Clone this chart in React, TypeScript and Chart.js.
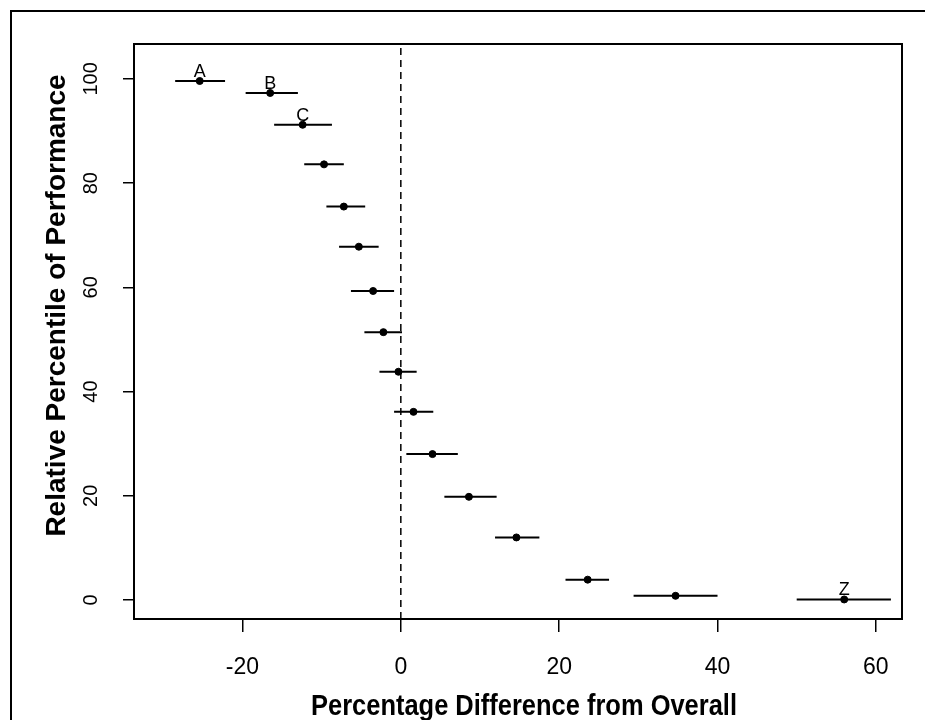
import React, { useEffect, useRef } from "react";
import { Chart, registerables } from "chart.js";

Chart.register(...registerables);

// ---- data ----
const pointLabels = ["A", "B", "C", "", "", "", "", "", "", "", "", "", "", "", "", "Z"];
const estimates = [-25.4, -16.5, -12.4, -9.7, -7.2, -5.3, -3.5, -2.2, -0.3, 1.6, 4.0, 8.6, 14.6, 23.6, 34.7, 56.0];
const lowerBounds = [-28.5, -19.6, -16.0, -12.2, -9.4, -7.8, -6.3, -4.6, -2.7, -0.85, 0.7, 5.5, 11.9, 20.8, 29.4, 50.0];
const upperBounds = [-22.2, -13.0, -8.7, -7.2, -4.5, -2.8, -0.85, 0.15, 2.0, 4.1, 7.2, 12.1, 17.5, 26.3, 40.0, 61.9];
const percentiles = [99.6, 97.3, 91.2, 83.6, 75.5, 67.8, 59.3, 51.4, 43.8, 36.1, 28.0, 19.8, 12.0, 3.9, 0.8, 0.1];
const xTicks = [-20, 0, 20, 40, 60];
const yTicks = [0, 20, 40, 60, 80, 100];
const xRange = [-33.7, 63.3];
const yRange = [-3.65, 106.7];
const referenceX = 0;
const xTitle = "Percentage Difference from Overall";
const yTitle = "Relative Percentile of Performance";

const FONT = "'Liberation Sans', Arial, Helvetica, sans-serif";

const framePlugin = {
  id: "framePlugin",
  beforeDraw(chart: any) {
    const ctx = chart.ctx;
    ctx.save();
    ctx.fillStyle = "#fff";
    ctx.fillRect(0, 0, chart.width, chart.height);
    ctx.strokeStyle = "#000";
    ctx.lineWidth = 2;
    ctx.beginPath();
    ctx.moveTo(11, chart.height);
    ctx.lineTo(11, 11);
    ctx.lineTo(chart.width, 11);
    ctx.stroke();
    ctx.restore();
  },
  afterDraw(chart: any) {
    const ctx = chart.ctx;
    const a = chart.chartArea;
    const xs = chart.scales.x;
    const ys = chart.scales.y;
    ctx.save();
    ctx.strokeStyle = "#000";
    ctx.lineWidth = 2;
    ctx.strokeRect(a.left, a.top, a.right - a.left, a.bottom - a.top);
    ctx.fillStyle = "#000";

    // point labels
    ctx.font = `18px ${FONT}`;
    ctx.textAlign = "center";
    ctx.textBaseline = "alphabetic";
    pointLabels.forEach((lab, i) => {
      if (!lab) return;
      const px = xs.getPixelForValue(estimates[i]);
      const py = ys.getPixelForValue(percentiles[i]);
      ctx.fillText(lab, px, py - 4);
    });

    // axis titles
    ctx.font = `bold 29px ${FONT}`;
    ctx.textAlign = "center";
    ctx.textBaseline = "alphabetic";
    ctx.fillText(xTitle, (a.left + a.right) / 2 + 6, chart.height - 5, 426);

    ctx.save();
    ctx.translate(65, (a.top + a.bottom) / 2 - 26);
    ctx.rotate(-Math.PI / 2);
    ctx.font = `bold 28px ${FONT}`;
    ctx.fillText(yTitle, 0, 0);
    ctx.restore();

    ctx.restore();
  },
};

export default function App() {
  const ref = useRef<HTMLCanvasElement | null>(null);

  useEffect(() => {
    if (!ref.current) return;
    const barData: any[] = [];
    percentiles.forEach((p, i) => {
      barData.push({ x: lowerBounds[i], y: p });
      barData.push({ x: upperBounds[i], y: p });
      barData.push({ x: upperBounds[i], y: null });
    });
    const chart = new Chart(ref.current, {
      type: "scatter",
      data: {
        datasets: [
          {
            label: "reference",
            data: [
              { x: referenceX, y: yRange[0] },
              { x: referenceX, y: yRange[1] },
            ],
            showLine: true,
            borderColor: "#000",
            borderWidth: 1.5,
            borderDash: [7, 5],
            pointRadius: 0,
          },
          {
            label: "interval",
            data: barData,
            showLine: true,
            spanGaps: false,
            borderColor: "#000",
            borderWidth: 2,
            pointRadius: 0,
          },
          {
            label: "estimate",
            data: estimates.map((x, i) => ({ x, y: percentiles[i] })),
            backgroundColor: "#000",
            borderColor: "#000",
            pointRadius: 3.5,
            pointStyle: "circle",
          },
        ],
      },
      options: {
        responsive: false,
        animation: false,
        events: [],
        layout: { padding: { top: 44, right: 23, bottom: 0, left: 0 } },
        plugins: { legend: { display: false }, tooltip: { enabled: false } },
        scales: {
          x: {
            type: "linear",
            min: xRange[0],
            max: xRange[1],
            afterFit: (s: any) => {
              s.height = 101;
            },
            afterBuildTicks: (s: any) => {
              s.ticks = xTicks.map((v) => ({ value: v }));
            },
            grid: {
              drawOnChartArea: false,
              drawTicks: true,
              tickLength: 13,
              color: "#000",
              lineWidth: 1.5,
            },
            border: { display: true, color: "#000", width: 2 },
            ticks: {
              color: "#000",
              padding: 22,
              maxRotation: 0,
              font: { family: FONT, size: 23 },
            },
            title: { display: false, text: xTitle },
          },
          y: {
            type: "linear",
            min: yRange[0],
            max: yRange[1],
            afterFit: (s: any) => {
              s.width = 134;
            },
            afterBuildTicks: (s: any) => {
              s.ticks = yTicks.map((v) => ({ value: v }));
            },
            grid: {
              drawOnChartArea: false,
              drawTicks: true,
              tickLength: 11,
              color: "#000",
              lineWidth: 1.5,
            },
            border: { display: true, color: "#000", width: 2 },
            ticks: {
              color: "#000",
              padding: 15,
              minRotation: 90,
              maxRotation: 90,
              crossAlign: "center",
              font: { family: FONT, size: 20 },
            },
            title: { display: false, text: yTitle },
          },
        },
      },
      plugins: [framePlugin],
    } as any);
    return () => chart.destroy();
  }, []);

  return (
    <div style={{ position: "fixed", left: 0, top: 0, width: 925, height: 720 }}>
      <canvas ref={ref} width={925} height={720} />
    </div>
  );
}
